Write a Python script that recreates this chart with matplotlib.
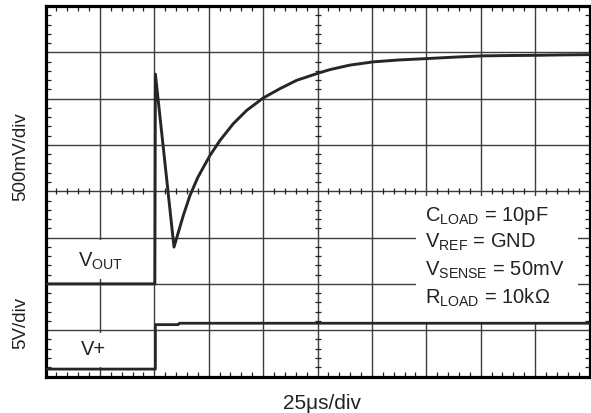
import numpy as np
import matplotlib
matplotlib.use("Agg")
import matplotlib.pyplot as plt
from matplotlib.ticker import MultipleLocator
from matplotlib.patches import Rectangle

plt.rcParams['font.family'] = ['Liberation Sans', 'DejaVu Sans']
plt.rcParams['mathtext.fontset'] = 'custom'
plt.rcParams['mathtext.rm'] = 'Liberation Sans'

# Data in screen divisions (x: 25us/div, y: divisions from bottom)
vout_x = [0.0, 2.01, 2.02, 2.362, 2.533, 2.656, 2.80, 3.024, 3.208, 3.452, 3.699,
          4.004, 4.311, 4.618, 5.046, 5.230, 5.597, 6.026, 6.50, 7.018, 7.50,
          8.024, 8.50, 9.03, 9.50, 10.0]
vout_y = [2.0, 2.0, 6.53, 2.794, 3.477, 3.909, 4.30, 4.774, 5.098, 5.459, 5.747,
          6.015, 6.216, 6.396, 6.562, 6.627, 6.724, 6.794, 6.835, 6.865, 6.895,
          6.923, 6.930, 6.936, 6.944, 6.95]
vplus_x = [0.0, 2.02, 2.02, 2.44, 2.46, 10.0]
vplus_y = [0.16, 0.16, 1.12, 1.12, 1.15, 1.15]

box_lines = [r'$\mathregular{C_{LOAD}}$ = 10pF',
             r'$\mathregular{V_{REF}}$ = GND',
             r'$\mathregular{V_{SENSE}}$ = 50mV',
             r'$\mathregular{R_{LOAD}}$ = 10kΩ']

W, H = 591, 414
fig = plt.figure(figsize=(W / 100, H / 100), dpi=100)
L, R, T, B = 45.5, 589.5, 7.0, 377.5
ax = fig.add_axes([L / W, 1 - B / H, (R - L) / W, (B - T) / H])
ax.set_xlim(0, 10)
ax.set_ylim(0, 8)

ax.set_xticks(range(11))
ax.set_yticks(range(9))
ax.xaxis.set_minor_locator(MultipleLocator(0.2))
ax.yaxis.set_minor_locator(MultipleLocator(0.2))
ax.tick_params(which='major', length=0, labelbottom=False, labelleft=False)
ax.tick_params(which='minor', direction='in', length=3.8, width=0.9, color='#222',
               top=True, right=True, bottom=True, left=True)
ax.set_axisbelow(True)
ax.grid(True, which='major', color='#3c3c3c', lw=1.0)
for s in ax.spines.values():
    s.set_linewidth(2.3)
    s.set_color('black')

# centre-line ticks
cx = [v for v in np.arange(0.2, 10, 0.2) if abs(v - round(v)) > 1e-6]
cy = [v for v in np.arange(0.2, 8, 0.2) if abs(v - round(v)) > 1e-6]
ax.plot(cx, [4] * len(cx), ls='none', marker='|', ms=4.5, mew=0.9, color='#222', zorder=1)
ax.plot([5] * len(cy), cy, ls='none', marker='_', ms=4.5, mew=0.9, color='#222', zorder=1)

# white label backgrounds
ax.add_patch(Rectangle((6.81, 1.18), 2.98, 2.72, facecolor='white', edgecolor='none', zorder=2))
ax.add_patch(Rectangle((0.45, 2.1), 1.15, 0.85, facecolor='white', edgecolor='none', zorder=2))
ax.add_patch(Rectangle((0.45, 0.2), 1.0, 0.75, facecolor='white', edgecolor='none', zorder=2))

ax.plot(vout_x, vout_y, color='#262626', lw=2.1, zorder=3, solid_joinstyle='round')
ax.plot(vplus_x, vplus_y, color='#262626', lw=2.0, zorder=3)

fs = 14.5
ys = [3.384, 2.80, 2.195, 1.589]
for t, y in zip(box_lines, ys):
    ax.text(6.98, y, t, fontsize=fs, ha='left', va='baseline', color='#222', zorder=4)

ax.text(1.02, 2.40, r'$\mathregular{V_{OUT}}$', fontsize=fs, ha='center', va='baseline', color='#222', zorder=4)
ax.text(0.88, 0.486, 'V+', fontsize=fs, ha='center', va='baseline', color='#222', zorder=4)

fig.text(20.5 / W, 1 - 157 / H, '500mV/div', rotation=90, ha='center', va='center', fontsize=13.5, color='#222')
fig.text(20.5 / W, 1 - 323 / H, '5V/div', rotation=90, ha='center', va='center', fontsize=13.5, color='#222')
fig.text(322 / W, 1 - 404 / H, '25μs/div', ha='center', va='center', fontsize=15, color='#222')

fig.savefig('out.png', dpi=100)
